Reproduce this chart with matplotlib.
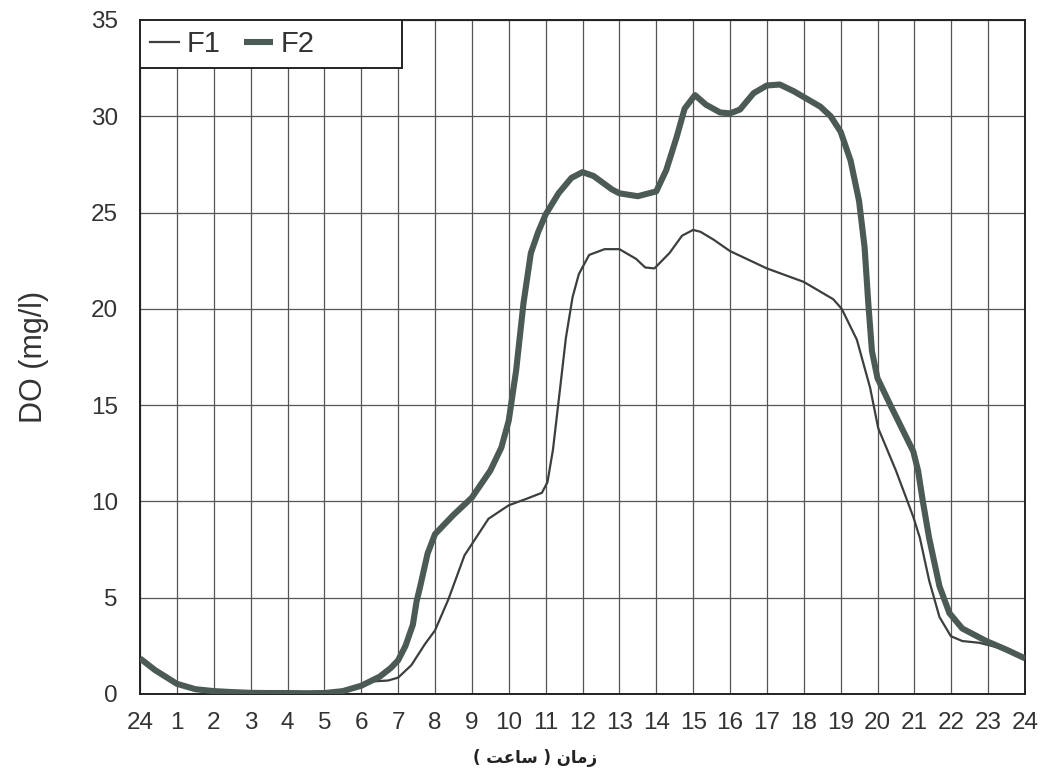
import matplotlib
matplotlib.use("Agg")
import matplotlib.pyplot as plt
from matplotlib.patches import Rectangle

# hours (0 == midnight, drawn as "24")
f2_hours = [0, 0.4, 1.0, 1.5, 2.0, 2.5, 3.0, 3.5, 4.0, 4.5, 5.0, 5.5, 6.0,
            6.5, 6.8, 7.0, 7.2, 7.4, 7.5, 7.6, 7.8, 8.0, 8.5, 9.0, 9.5, 9.8,
            10.0, 10.2, 10.4, 10.6, 10.8, 11.0, 11.35, 11.7, 12.0, 12.3, 12.8,
            13.0, 13.5, 14.0, 14.27, 14.55, 14.77, 15.05, 15.35, 15.73, 16.0,
            16.27, 16.64, 17.0, 17.35, 17.73, 18.0, 18.45, 18.73, 19.0, 19.27,
            19.5, 19.65, 19.75, 19.85, 20.0, 20.35, 20.97, 21.1, 21.23, 21.4,
            21.68, 21.95, 22.3, 22.95, 23.5, 24.0]
f2_do = [1.85, 1.25, 0.53, 0.25, 0.15, 0.1, 0.06, 0.05, 0.05, 0.04, 0.05,
         0.15, 0.43, 0.9, 1.35, 1.75, 2.5, 3.6, 4.8, 5.6, 7.3, 8.3, 9.3, 10.2,
         11.6, 12.8, 14.2, 16.8, 20.3, 22.9, 24.0, 24.9, 26.0, 26.8, 27.1,
         26.9, 26.2, 26.0, 25.85, 26.1, 27.2, 28.9, 30.4, 31.1, 30.6, 30.2,
         30.15, 30.35, 31.2, 31.6, 31.65, 31.3, 31.0, 30.5, 30.0, 29.2, 27.7,
         25.6, 23.2, 20.3, 17.8, 16.4, 15.0, 12.6, 11.6, 10.0, 8.1, 5.6, 4.2,
         3.4, 2.75, 2.3, 1.85]

f1_hours = [0, 0.4, 1.0, 1.5, 2.0, 2.5, 3.0, 3.5, 4.0, 4.5, 5.0, 5.5, 6.0,
            6.36, 6.73, 7.0, 7.36, 7.73, 8.0, 8.36, 8.8, 9.45, 10.0, 10.5,
            10.9, 11.05, 11.2, 11.4, 11.55, 11.73, 11.9, 12.18, 12.6, 13.0,
            13.45, 13.7, 13.95, 14.36, 14.7, 15.0, 15.2, 15.55, 16.0, 17.0,
            18.0, 18.8, 19.03, 19.44, 19.8, 20.02, 20.5, 20.97, 21.15, 21.4,
            21.68, 21.99, 22.3, 22.76, 23.3, 24.0]
f1_do = [1.85, 1.25, 0.53, 0.25, 0.15, 0.1, 0.06, 0.05, 0.05, 0.04, 0.05,
         0.15, 0.45, 0.66, 0.7, 0.85, 1.5, 2.6, 3.3, 4.9, 7.2, 9.1, 9.8,
         10.15, 10.45, 11.0, 12.7, 16.0, 18.5, 20.6, 21.8, 22.8, 23.1, 23.1,
         22.6, 22.15, 22.1, 22.9, 23.8, 24.1, 24.0, 23.6, 23.0, 22.1, 21.4,
         20.5, 20.0, 18.4, 15.9, 13.8, 11.6, 9.2, 8.1, 5.9, 4.0, 3.0, 2.75,
         2.66, 2.4, 1.85]

x_ticks = list(range(0, 25))
x_tick_labels = ["24"] + [str(h) for h in range(1, 25)]
y_ticks = [0, 5, 10, 15, 20, 25, 30, 35]

# "زمان ( ساعت )" in shaped presentation forms, visual order
x_label = "(\u00a0\uFE96\uFECB\uFE8E\uFEB3\u00a0)\u00a0\uFEE5\uFE8E\uFEE3\uFEAF"


def main():
    plt.rcParams['font.family'] = ['Liberation Sans', 'DejaVu Sans']
    fig = plt.figure(figsize=(10.42, 7.76), dpi=100)
    ax = fig.add_axes([140 / 1042, 1 - 694 / 776, 885 / 1042, 674 / 776])

    ax.plot(f1_hours, f1_do, color='#3b403f', linewidth=1.6,
            solid_joinstyle='round', label='F1', zorder=3)
    ax.plot(f2_hours, f2_do, color='#4b5a55', linewidth=4.4,
            solid_joinstyle='round', solid_capstyle='butt', label='F2',
            zorder=4)

    ax.set_xlim(0, 24)
    ax.set_ylim(0, 35)
    ax.set_xticks(x_ticks)
    ax.set_xticklabels(x_tick_labels)
    ax.set_yticks(y_ticks)
    ax.tick_params(length=0, labelsize=17.5, colors='#333333')
    ax.tick_params(axis='x', pad=13)
    ax.tick_params(axis='y', pad=16)
    ax.grid(True, color='#555555', linewidth=0.9)
    ax.set_axisbelow(True)
    for spine in ax.spines.values():
        spine.set_color('#222222')
        spine.set_linewidth(1.4)

    ax.set_ylabel('DO (mg/l)', fontsize=22, color='#333333', labelpad=30)
    fig.text(535 / 1042, 1 - 758 / 776, x_label, fontsize=12,
             fontweight='bold', family=['DejaVu Sans'], ha='center',
             va='center', color='#222222')

    # legend box at the top-left corner of the plot
    box = Rectangle((0, 1 - 48 / 674), 262 / 885, 48 / 674,
                    transform=ax.transAxes, facecolor='white',
                    edgecolor='#222222', linewidth=1.4, zorder=5)
    ax.add_patch(box)
    leg = ax.legend(loc='upper left', bbox_to_anchor=(0.0, 1.0), ncol=2,
                    frameon=False, fontsize=21, handlelength=1.0,
                    handletextpad=0.25, columnspacing=0.8,
                    borderaxespad=0.1, borderpad=0.25, labelcolor='#333333')
    leg.set_zorder(6)

    fig.savefig('out.png', dpi=100)


if __name__ == "__main__":
    main()
